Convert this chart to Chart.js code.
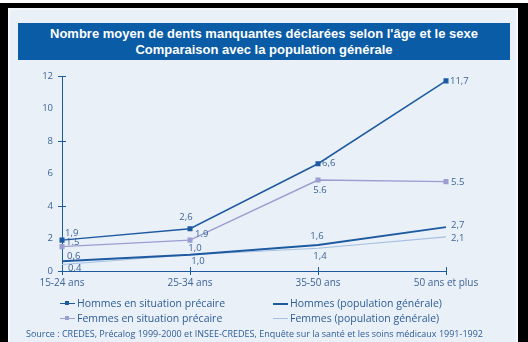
<!DOCTYPE html>
<html>
<head>
<meta charset="utf-8">
<script src="https://cdn.jsdelivr.net/npm/chart.js@4.4.0/dist/chart.umd.min.js"></script>
<style>
  html, body { margin: 0; padding: 0; background: #fff; }
  #frame { position: absolute; left: 0; top: 3px; width: 528px; height: 345px; background: #000; }
  #panel { position: absolute; left: 8px; top: 8px; width: 510px; height: 340px; background: #e9f0f8; border: 2px solid #f6f9fd; box-sizing: border-box; }
  #title { position: absolute; left: 18px; top: 23px; width: 492px; height: 37px; background: #0a5ca6;
           color: #fff; font: bold 13px "Liberation Sans", Arial, sans-serif; text-align: center; line-height: 15.5px; padding-top: 3px; box-sizing: border-box; }
  #chart { position: absolute; left: 0; top: 0; }
  #legend { position: absolute; left: 60px; top: 295px; display: grid; grid-template-rows: 15px 15px; grid-template-columns: 213px 200px;
            grid-auto-flow: column; font: 10.5px "Open Sans", sans-serif; color: #2c5d96; }
  #legend div { display: flex; align-items: center; white-space: nowrap; }
  .sample { position: relative; width: 15px; height: 10px; margin-right: 2px; }
  .sample i { position: absolute; left: 0; right: 0; top: 50%; }
  .sample b { position: absolute; left: 5px; top: 3px; width: 4px; height: 4px; }
  #source { position: absolute; left: 26px; top: 327px; font: 9px "Open Sans", sans-serif; color: #2c5d96; white-space: nowrap; }
</style>
</head>
<body>
<div id="frame"></div>
<div id="panel"></div>
<div id="title">Nombre moyen de dents manquantes déclarées selon l'âge et le sexe<br>Comparaison avec la population générale</div>
<canvas id="chart" width="528" height="342"></canvas>
<div id="legend"></div>
<div id="source">Source : CREDES, Précalog 1999-2000 et INSEE-CREDES, Enquête sur la santé et les soins médicaux 1991-1992</div>
<script>
// Données
const ages = ['15-24 ans', '25-34 ans', '35-50 ans', '50 ans et plus'];
const hommesPrecaires = [1.9, 2.6, 6.6, 11.7];
const femmesPrecaires = [1.5, 1.9, 5.6, 5.5];
const hommesGeneral = [0.6, 1.0, 1.6, 2.7];
const femmesGeneral = [0.4, 1.0, 1.4, 2.1];
const yTicks = [0, 2, 4, 6, 8, 10, 12];
const yMarks = [0, 4, 8, 12];

const dark = '#1d5aa0';
const lilas = '#9a9ed0';
const clair = '#a6c0e2';

// position des étiquettes: [dx, dy, align]
const offsets = [
    [[3, -7, 'left'], [-4, -11, 'center'], [4, 0, 'left'], [4, 0, 'left']],
    [[4, -4, 'left'], [5, -6, 'left'], [2, 10, 'center'], [5, 1, 'left']],
    [[5, -5, 'left'], [5, -6, 'center'], [-1, -9, 'center'], [5, -2, 'left']],
    [[6, 4, 'left'], [8, 7, 'center'], [2, 8, 'center'], [5, 1, 'left']]
];
const separators = [',', '.', ',', ','];

const valueLabels = {
    id: 'valueLabels',
    afterDatasetsDraw(chart) {
        const c = chart.ctx;
        c.save();
        c.font = '9.5px "Open Sans", sans-serif';
        c.fillStyle = '#3d6496';
        c.textBaseline = 'middle';
        chart.data.datasets.forEach((ds, i) => {
            chart.getDatasetMeta(i).data.forEach((pt, j) => {
                const o = offsets[i][j];
                c.textAlign = o[2];
                c.fillText(ds.data[j].toFixed(1).replace('.', separators[i]), pt.x + o[0], pt.y + o[1]);
            });
        });
        c.restore();
    }
};

// petits traits qui traversent les axes
const crossTicks = {
    id: 'crossTicks',
    afterDraw(chart) {
        const c = chart.ctx, x = chart.scales.x, y = chart.scales.y;
        c.save();
        c.strokeStyle = dark;
        c.lineWidth = 1;
        c.beginPath();
        yMarks.forEach(v => {
            const py = Math.round(y.getPixelForValue(v)) + 0.5;
            c.moveTo(x.left - 4, py);
            c.lineTo(x.left + 4, py);
        });
        ages.forEach((a, i) => {
            const px = Math.round(x.getPixelForValue(i)) + 0.5;
            c.moveTo(px, y.bottom - 4);
            c.lineTo(px, y.bottom + 4);
        });
        c.stroke();
        c.restore();
    }
};

const ctx = document.getElementById('chart').getContext('2d');
const chart = new Chart(ctx, {
    type: 'line',
    data: {
        labels: ages,
        datasets: [{
            label: 'Hommes en situation précaire',
            data: hommesPrecaires,
            borderColor: dark,
            backgroundColor: dark,
            borderWidth: 1.5,
            pointStyle: 'rect',
            pointRadius: 2.5
        }, {
            label: 'Femmes en situation précaire',
            data: femmesPrecaires,
            borderColor: lilas,
            backgroundColor: lilas,
            borderWidth: 1.5,
            pointStyle: 'rect',
            pointRadius: 2.5
        }, {
            label: 'Hommes (population générale)',
            data: hommesGeneral,
            borderColor: dark,
            backgroundColor: dark,
            borderWidth: 2,
            pointRadius: 0
        }, {
            label: 'Femmes (population générale)',
            data: femmesGeneral,
            borderColor: clair,
            backgroundColor: clair,
            borderWidth: 1.2,
            pointRadius: 0
        }]
    },
    options: {
        responsive: false,
        animation: false,
        layout: {
            padding: { left: 32, top: 76, right: 82, bottom: 51 }
        },
        scales: {
            x: {
                offset: false,
                grid: { display: false, drawTicks: false },
                border: { color: dark, width: 1 },
                ticks: { color: '#3d6496', font: { family: 'Open Sans', size: 10 }, padding: 6, maxRotation: 0 },
                afterFit: s => { s.height = 20; }
            },
            y: {
                min: 0,
                max: 12,
                afterBuildTicks: s => { s.ticks = yTicks.map(v => ({ value: v })); },
                grid: { display: false, drawTicks: false },
                border: { color: dark, width: 1 },
                ticks: { color: '#3d6496', font: { family: 'Open Sans', size: 9.5 }, padding: 9 },
                afterFit: s => { s.width = 30; }
            }
        },
        plugins: {
            legend: { display: false },
            tooltip: { enabled: false }
        }
    },
    plugins: [valueLabels, crossTicks]
});

// légende HTML
const legend = document.getElementById('legend');
chart.data.datasets.forEach(ds => {
    const item = document.createElement('div');
    const marker = ds.pointRadius ? '<b style="background:' + ds.borderColor + '"></b>' : '';
    item.innerHTML = '<span class="sample"><i style="border-top:' + ds.borderWidth + 'px solid ' + ds.borderColor + '"></i>' + marker + '</span>' + ds.label;
    legend.appendChild(item);
});
</script>
</body>
</html>
